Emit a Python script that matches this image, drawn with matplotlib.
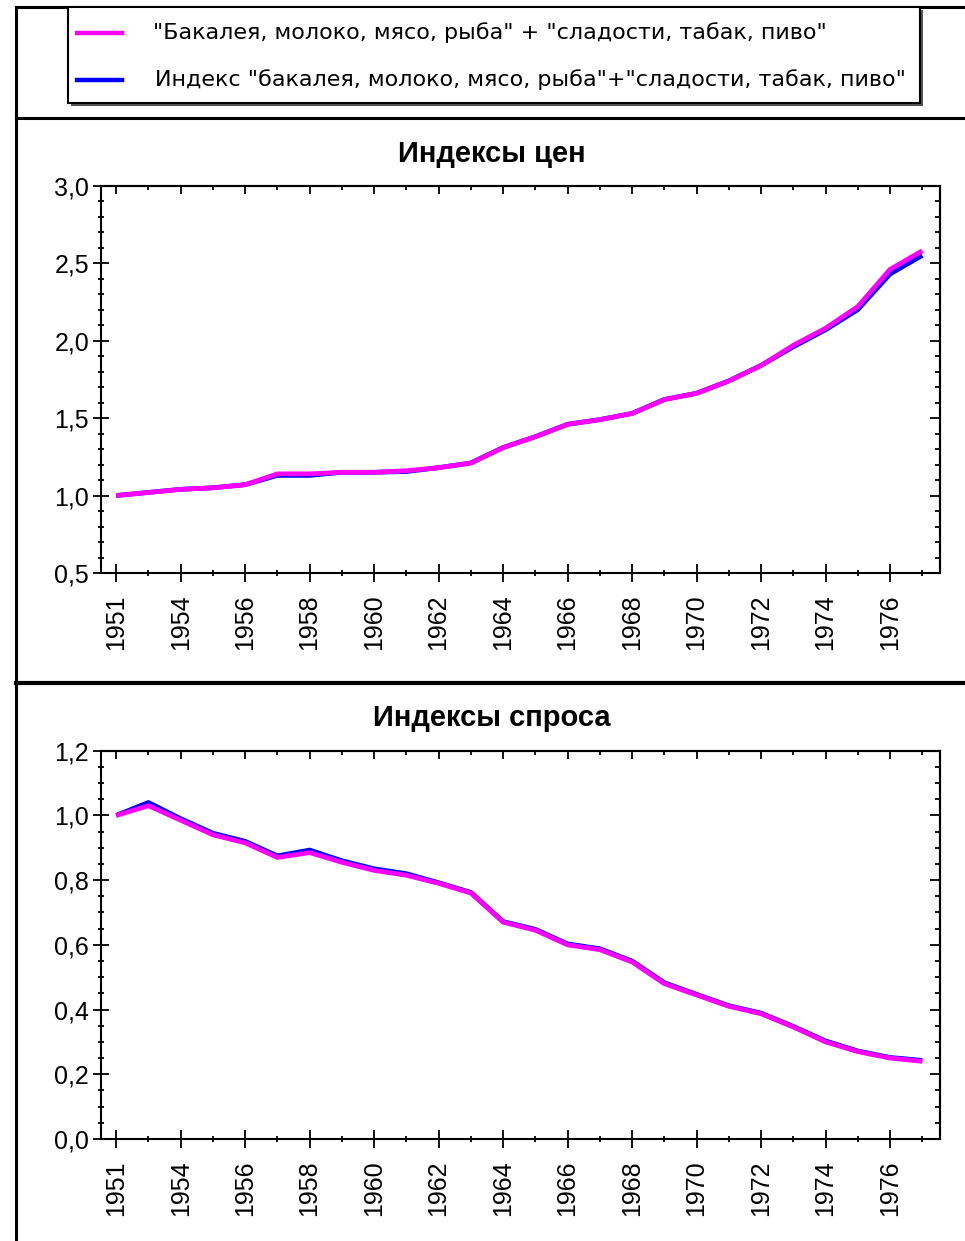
import matplotlib
matplotlib.use("Agg")
import matplotlib.pyplot as plt
from matplotlib.lines import Line2D
from matplotlib.patches import Rectangle
from matplotlib.ticker import FixedLocator, FuncFormatter

# ---------------- data ----------------
years = ["1951", "1953", "1954", "1955", "1956", "1957", "1958", "1959", "1960",
         "1961", "1962", "1963", "1964", "1965", "1966", "1967", "1968", "1969",
         "1970", "1971", "1972", "1973", "1974", "1975", "1976", "1977"]
tick_labels = ["1951", "1954", "1956", "1958", "1960", "1962", "1964", "1966",
               "1968", "1970", "1972", "1974", "1976"]

price_sum = [1.00, 1.02, 1.04, 1.05, 1.07, 1.14, 1.14, 1.15, 1.15, 1.16, 1.18,
             1.21, 1.31, 1.38, 1.46, 1.49, 1.53, 1.62, 1.66, 1.74, 1.84, 1.97,
             2.08, 2.22, 2.46, 2.58]
price_index = [1.00, 1.02, 1.04, 1.05, 1.07, 1.13, 1.13, 1.15, 1.15, 1.155, 1.18,
               1.21, 1.31, 1.38, 1.46, 1.49, 1.53, 1.62, 1.66, 1.74, 1.84, 1.96,
               2.07, 2.20, 2.43, 2.55]
demand_sum = [1.00, 1.03, 0.985, 0.94, 0.915, 0.87, 0.885, 0.855, 0.83, 0.815,
              0.79, 0.76, 0.67, 0.645, 0.60, 0.585, 0.547, 0.48, 0.445, 0.41,
              0.387, 0.346, 0.30, 0.27, 0.25, 0.24]
demand_index = [1.00, 1.04, 0.99, 0.945, 0.92, 0.875, 0.893, 0.86, 0.835, 0.82,
                0.792, 0.762, 0.672, 0.648, 0.603, 0.588, 0.55, 0.483, 0.447,
                0.412, 0.389, 0.348, 0.303, 0.272, 0.252, 0.243]

legend_labels = ['"Бакалея, молоко, мясо, рыба" + "сладости, табак, пиво"',
                 'Индекс "бакалея, молоко, мясо, рыба"+"сладости, табак, пиво"']
titles = ["Индексы цен", "Индексы спроса"]
colors = ["#ff00ff", "#0000ff"]

# ---------------- figure ----------------
W, H = 965, 1241
fig = plt.figure(figsize=(W / 100, H / 100), dpi=100)
plt.rcParams["font.family"] = ["Liberation Sans", "DejaVu Sans"]


def fx(px):
    return px / W


def fy(py):
    return 1 - py / H


# frame lines
fig.add_artist(Line2D([fx(16), 1], [fy(7), fy(7)], color="black", lw=2.2))
fig.add_artist(Line2D([fx(16), fx(16)], [fy(7), 0], color="black", lw=2.2))
fig.add_artist(Line2D([fx(16), 1], [fy(118), fy(118)], color="black", lw=2.2))
fig.add_artist(Line2D([fx(16), 1], [fy(683), fy(683)], color="black", lw=3.0))

# legend box with shadow
fig.add_artist(Rectangle((fx(71), fy(106)), fx(920) - fx(68), fy(7) - fy(103),
                         facecolor="#555555", edgecolor="none", zorder=1))
fig.add_artist(Rectangle((fx(68), fy(103)), fx(920) - fx(68), fy(7) - fy(103),
                         facecolor="white", edgecolor="black", lw=1.5, zorder=2))
for i, (lab, col) in enumerate(zip(legend_labels, colors)):
    yy = [33, 80][i]
    x0 = [153, 155][i]
    fig.add_artist(Line2D([fx(77), fx(122)], [fy(yy), fy(yy)], color=col, lw=3.2, zorder=3))
    fig.text(fx(x0), fy(yy), lab, fontsize=16, va="center", ha="left", zorder=3,
             family=["DejaVu Sans"])

x = list(range(len(years)))
panels = [
    dict(top=185.7, bottom=573, ylim=(0.5, 3.0), major=0.5, minor=0.1,
         series=(price_sum, price_index), title_y=153),
    dict(top=750.7, bottom=1139, ylim=(0.0, 1.2), major=0.2, minor=0.05,
         series=(demand_sum, demand_index), title_y=717),
]

for p, title in zip(panels, titles):
    ax = fig.add_axes([fx(101), fy(p["bottom"]), fx(940) - fx(101),
                       fy(p["top"]) - fy(p["bottom"])])
    s_sum, s_idx = p["series"]
    ax.plot(x, s_idx, color=colors[1], lw=3.4, solid_capstyle="butt", zorder=3)
    ax.plot(x, s_sum, color=colors[0], lw=3.4, solid_capstyle="butt", zorder=4)
    ax.set_xlim(-0.47, 25.55)
    ax.set_ylim(*p["ylim"])
    for sp in ax.spines.values():
        sp.set_linewidth(1.5)

    lo, hi = p["ylim"]
    nmaj = int(round((hi - lo) / p["major"]))
    majors = [lo + k * p["major"] for k in range(nmaj + 1)]
    nmin = int(round((hi - lo) / p["minor"]))
    minors = [lo + k * p["minor"] for k in range(nmin + 1)]
    ax.yaxis.set_major_locator(FixedLocator(majors))
    ax.yaxis.set_minor_locator(FixedLocator(minors))
    ax.yaxis.set_major_formatter(FuncFormatter(lambda v, _: f"{v:.1f}".replace(".", ",")))

    xmaj = list(range(0, len(years), 2))
    xmin = list(range(1, len(years), 2))
    ax.xaxis.set_major_locator(FixedLocator(xmaj))
    ax.xaxis.set_minor_locator(FixedLocator(xmin))
    ax.set_xticklabels(tick_labels, rotation=90)

    ax.tick_params(axis="x", which="major", direction="inout", length=13, width=1.3,
                   labelsize=18, pad=9, top=False)
    ax.tick_params(axis="x", which="minor", direction="inout", length=4.5, width=1.3, top=False)
    ax.tick_params(axis="y", which="major", direction="inout", length=11, width=1.3,
                   labelsize=18, pad=3, right=False)
    ax.tick_params(axis="y", which="minor", direction="inout", length=4.5, width=1.3, right=False)

    # top & right inward ticks
    sx = ax.secondary_xaxis("top")
    sx.xaxis.set_major_locator(FixedLocator(xmaj))
    sx.xaxis.set_minor_locator(FixedLocator(xmin))
    sx.tick_params(which="major", direction="in", length=6, width=1.3, labeltop=False)
    sx.tick_params(which="minor", direction="in", length=3, width=1.3)
    sx.spines["top"].set_linewidth(1.5)
    sy = ax.secondary_yaxis("right")
    sy.yaxis.set_major_locator(FixedLocator(majors))
    sy.yaxis.set_minor_locator(FixedLocator(minors))
    sy.tick_params(which="major", direction="in", length=7, width=1.3, labelright=False)
    sy.tick_params(which="minor", direction="in", length=3.5, width=1.3)
    sy.spines["right"].set_linewidth(1.5)

    fig.text(fx(492), fy(p["title_y"] + 1), title, fontsize=21, fontweight="bold",
             ha="center", va="center")

fig.savefig("out.png", dpi=100)
